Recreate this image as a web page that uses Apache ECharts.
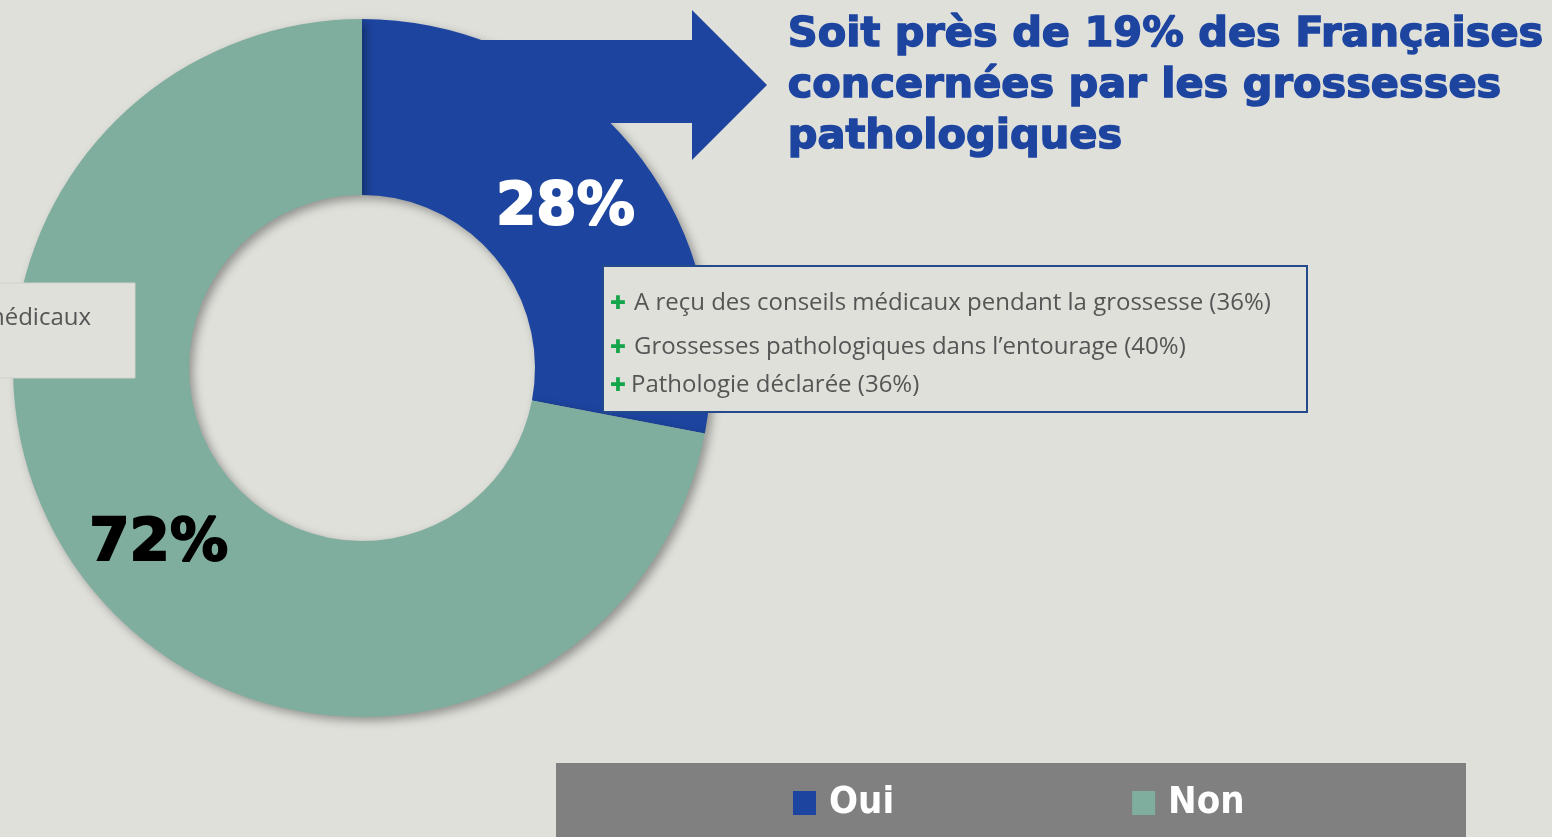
<!DOCTYPE html>
<html>
<head>
<meta charset="utf-8">
<script src="https://cdn.jsdelivr.net/npm/echarts@6/dist/echarts.min.js"></script>
<style>
  html, body { margin: 0; padding: 0; background: #e0e0db; }
  #chart { width: 1552px; height: 837px; }
</style>
</head>
<body>
<div id="chart"></div>
<script>
// donut data
const categories = ['Oui', 'Non'];
const shares = [28, 72];
const colors = ['#1d45a0', '#7fae9f'];

// callout text
const headline = ['Soit près de 19% des Françaises', 'concernées par les grossesses', 'pathologiques'];
const factors = [
    'A reçu des conseils médicaux pendant la grossesse (36%)',
    'Grossesses pathologiques dans l\u2019entourage (40%)',
    'Pathologie déclarée (36%)'
];
const leftNote = 'médicaux';

const chart = echarts.init(document.getElementById('chart'));

const factorY = [303, 347, 385];
const factorGraphics = [];
factors.forEach((t, i) => {
    factorGraphics.push({
        type: 'text', x: 618, y: factorY[i] + 1, z: 10,
        style: {text: '\u271A', fill: '#12a54a', font: 'bold 19px "DejaVu Sans"', align: 'center', verticalAlign: 'middle',
            shadowColor: 'rgba(0,0,0,0.85)', shadowBlur: 1, shadowOffsetX: 1, shadowOffsetY: 1}
    });
    factorGraphics.push({
        type: 'text', x: i === 2 ? 631 : 634, y: factorY[i], z: 10,
        style: {text: t, fill: '#555555', font: '24px "Open Sans"', verticalAlign: 'middle'}
    });
});

const option = {
    backgroundColor: '#e0e0db',
    animation: false,
    color: colors,
    legend: {
        data: categories,
        left: 793,
        top: 784,
        padding: 0,
        itemWidth: 23,
        itemHeight: 24,
        itemGap: 238,
        icon: 'rect',
        z: 20,
        textStyle: {color: '#ffffff', fontSize: 38, fontWeight: 'bold', fontFamily: '"Liberation Sans Narrow", "DejaVu Sans Condensed", sans-serif', padding: [0, 0, 0, 8]}
    },
    graphic: [
        // arrow joined to the blue slice
        {
            type: 'polygon', z: 6,
            shape: {points: [[450, 40], [692, 40], [692, 10], [767, 85], [692, 160], [692, 123], [450, 123]]},
            style: {fill: '#1d45a0'}
        },
        {
            type: 'text', left: 787, top: 10, z: 10,
            style: {text: headline.join('\n'), fill: '#1d45a0', font: 'bold 41.5px "DejaVu Sans"', lineHeight: 51,
                stroke: '#1d45a0', lineWidth: 1.5}
        },
        // left clipped box
        {
            type: 'rect', z: 10,
            shape: {x: -5, y: 283, width: 140, height: 95},
            style: {fill: '#e0e0db', stroke: '#d0d0cc', lineWidth: 1}
        },
        {
            type: 'text', z: 11, x: 91, y: 318,
            style: {text: leftNote, fill: '#555555', font: '24px "Open Sans"', align: 'right', verticalAlign: 'middle'}
        },
        // factors box
        {
            type: 'rect', z: 9,
            shape: {x: 603, y: 266, width: 704, height: 146},
            style: {fill: '#e0e0db', stroke: '#234a8a', lineWidth: 2}
        },
        ...factorGraphics,
        // legend band
        {
            type: 'rect', z: 1,
            shape: {x: 556, y: 763, width: 910, height: 80},
            style: {fill: '#808080'}
        }
    ],
    series: [{
        type: 'pie',
        center: [362, 368],
        radius: [173, 349],
        startAngle: 90,
        clockwise: true,
        z: 5,
        silent: true,
        itemStyle: {shadowBlur: 10, shadowOffsetX: 4, shadowOffsetY: 4, shadowColor: 'rgba(0,0,0,0.35)'},
        label: {
            show: true,
            position: 'inside',
            formatter: '{d}%',
            fontFamily: '"DejaVu Sans"',
            fontWeight: 'bold',
            fontSize: 58,
            offset: [0, 9]
        },
        labelLine: {show: false},
        data: categories.map((c, i) => ({
            name: c,
            value: shares[i],
            label: {
                color: i === 0 ? '#ffffff' : '#000000',
                textBorderColor: i === 0 ? '#ffffff' : '#000000',
                textBorderWidth: 2
            }
        }))
    }]
};

chart.setOption(option);
</script>
</body>
</html>
